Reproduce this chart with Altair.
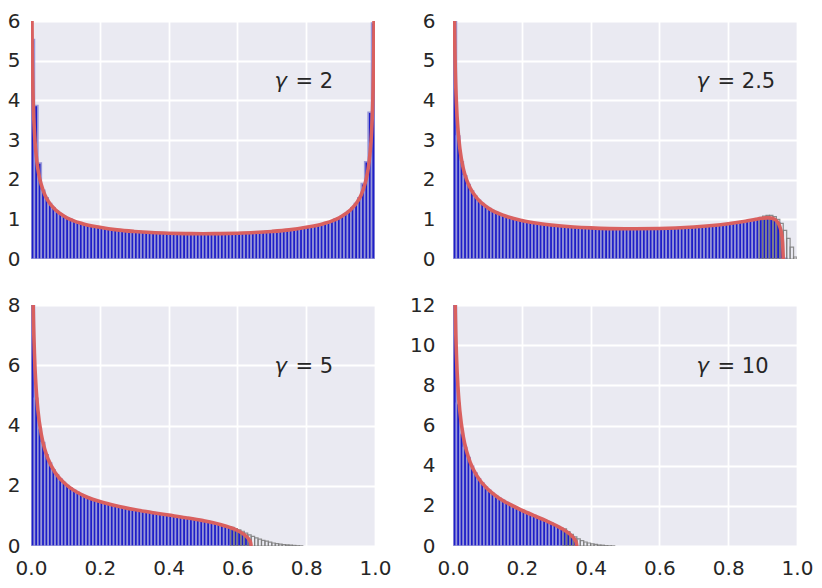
import altair as alt
import pandas as pd

BIN = 0.01
panels = ["2", "2.5", "5", "10"]
y_max = {"2": 6, "2.5": 6, "5": 8, "10": 12}
y_step = {"2": 1, "2.5": 1, "5": 2, "10": 2}

# blue histogram heights (bins of width 0.01 starting at 0)
blue = {
    "2": [5.53, 3.87, 2.42, 1.73, 1.54, 1.40, 1.29, 1.21, 1.14, 1.09,
          1.04, 1.00, 0.96, 0.93, 0.90, 0.88, 0.86, 0.84, 0.82, 0.80,
          0.79, 0.78, 0.76, 0.75, 0.74, 0.73, 0.72, 0.71, 0.71, 0.70,
          0.69, 0.69, 0.68, 0.67, 0.67, 0.67, 0.66, 0.66, 0.65, 0.65,
          0.65, 0.65, 0.64, 0.64, 0.64, 0.64, 0.64, 0.64, 0.64, 0.64,
          0.64, 0.64, 0.64, 0.64, 0.64, 0.64, 0.64, 0.64, 0.65, 0.65,
          0.65, 0.65, 0.66, 0.66, 0.67, 0.67, 0.67, 0.68, 0.69, 0.69,
          0.70, 0.71, 0.71, 0.72, 0.73, 0.74, 0.75, 0.76, 0.78, 0.79,
          0.80, 0.82, 0.84, 0.86, 0.88, 0.90, 0.93, 0.96, 1.00, 1.04,
          1.09, 1.14, 1.21, 1.29, 1.40, 1.54, 1.90, 2.45, 3.70, 5.95],
    "2.5": [7.80, 3.10, 2.45, 2.10, 1.88, 1.71, 1.58, 1.48, 1.40, 1.33,
            1.27, 1.22, 1.18, 1.14, 1.10, 1.07, 1.05, 1.02, 1.00, 0.98,
            0.96, 0.94, 0.93, 0.91, 0.90, 0.89, 0.88, 0.87, 0.86, 0.85,
            0.84, 0.83, 0.82, 0.82, 0.81, 0.81, 0.80, 0.80, 0.79, 0.79,
            0.78, 0.78, 0.78, 0.77, 0.77, 0.77, 0.77, 0.77, 0.77, 0.76,
            0.76, 0.76, 0.76, 0.76, 0.76, 0.76, 0.76, 0.77, 0.77, 0.77,
            0.77, 0.77, 0.78, 0.78, 0.78, 0.79, 0.79, 0.80, 0.80, 0.81,
            0.81, 0.82, 0.83, 0.83, 0.84, 0.85, 0.86, 0.86, 0.87, 0.88,
            0.90, 0.91, 0.92, 0.93, 0.95, 0.96, 0.98, 0.99, 1.01, 1.02,
            1.03, 1.04, 1.03, 1.00, 0.91, 0.60, 0.02],
    "5": [12.0, 4.90, 3.90, 3.43, 3.03, 2.75, 2.53, 2.36, 2.22, 2.11,
          2.01, 1.92, 1.85, 1.78, 1.72, 1.67, 1.62, 1.57, 1.53, 1.49,
          1.46, 1.43, 1.40, 1.37, 1.34, 1.31, 1.29, 1.27, 1.24, 1.22,
          1.20, 1.18, 1.16, 1.14, 1.12, 1.11, 1.09, 1.07, 1.05, 1.04,
          1.02, 1.00, 0.98, 0.97, 0.95, 0.93, 0.91, 0.89, 0.87, 0.85,
          0.83, 0.81, 0.78, 0.76, 0.73, 0.70, 0.67, 0.63, 0.59, 0.54,
          0.49, 0.42, 0.33, 0.15],
    "10": [14.0, 7.10, 5.60, 4.90, 4.40, 3.97, 3.63, 3.35, 3.13, 2.94,
           2.77, 2.63, 2.49, 2.38, 2.27, 2.17, 2.07, 1.98, 1.90, 1.82,
           1.74, 1.67, 1.59, 1.52, 1.44, 1.37, 1.30, 1.22, 1.14, 1.06,
           0.97, 0.88, 0.77, 0.65, 0.51, 0.25],
}

# gray outlined histogram (tail beyond the limiting support)
gray_first = {"2.5": 0.89, "5": 0.58, "10": 0.32}
gray = {
    "2.5": [1.05, 1.08, 1.10, 1.10, 1.07, 1.00, 0.90, 0.72, 0.52, 0.30, 0.05],
    "5": [0.62, 0.58, 0.54, 0.49, 0.43, 0.37, 0.32, 0.27, 0.23, 0.19, 0.16,
          0.13, 0.10, 0.08, 0.06, 0.05, 0.04, 0.03, 0.02, 0.01, 0.005],
    "10": [0.85, 0.72, 0.58, 0.45, 0.35, 0.27, 0.20, 0.15, 0.11, 0.08, 0.05,
           0.04, 0.02, 0.01, 0.005],
}

# red density curves
curve_x = {
    "2": [0.001, 0.003, 0.005, 0.01, 0.015, 0.02, 0.025, 0.03, 0.04, 0.05,
          0.07, 0.1, 0.15, 0.2, 0.25, 0.3, 0.35, 0.4, 0.45, 0.5,
          0.55, 0.6, 0.65, 0.7, 0.75, 0.8, 0.85, 0.9, 0.93, 0.95,
          0.96, 0.97, 0.975, 0.98, 0.985, 0.99, 0.995, 0.997, 0.999],
    "2.5": [0.001, 0.003, 0.005, 0.01, 0.015, 0.02, 0.03, 0.04, 0.05, 0.07,
            0.1, 0.15, 0.2, 0.25, 0.3, 0.35, 0.4, 0.5, 0.6, 0.7,
            0.8, 0.85, 0.88, 0.9, 0.91, 0.92, 0.93, 0.94, 0.945, 0.95,
            0.955, 0.958, 0.96],
    "5": [0.001, 0.003, 0.005, 0.01, 0.015, 0.02, 0.03, 0.04, 0.05, 0.07,
          0.1, 0.15, 0.2, 0.25, 0.3, 0.35, 0.4, 0.45, 0.5, 0.55,
          0.58, 0.6, 0.62, 0.63, 0.635, 0.638, 0.64],
    "10": [0.001, 0.003, 0.005, 0.007, 0.01, 0.015, 0.02, 0.03, 0.04, 0.05,
           0.07, 0.1, 0.13, 0.16, 0.2, 0.24, 0.27, 0.3, 0.32, 0.34,
           0.35, 0.355, 0.358, 0.36],
}
curve_y = {
    "2": [10.07, 5.82, 4.51, 3.20, 2.62, 2.27, 2.04, 1.87, 1.62, 1.46,
          1.25, 1.06, 0.89, 0.80, 0.735, 0.695, 0.667, 0.650, 0.640, 0.637,
          0.640, 0.650, 0.667, 0.695, 0.735, 0.80, 0.89, 1.06, 1.25, 1.46,
          1.62, 1.87, 2.04, 2.27, 2.62, 3.20, 4.51, 5.82, 10.07],
    "2.5": [12.33, 7.13, 5.53, 3.92, 3.21, 2.78, 2.28, 1.99, 1.79, 1.53,
            1.30, 1.09, 0.97, 0.894, 0.843, 0.808, 0.785, 0.763, 0.770, 0.808,
            0.890, 0.954, 1.000, 1.027, 1.036, 1.037, 1.021, 0.967, 0.911, 0.816,
            0.640, 0.433, 0.0],
    "5": [20.1, 11.63, 9.01, 6.38, 5.22, 4.52, 3.70, 3.21, 2.88, 2.44,
          2.06, 1.69, 1.475, 1.325, 1.210, 1.114, 1.027, 0.940, 0.842, 0.715,
          0.609, 0.514, 0.376, 0.271, 0.193, 0.123, 0.0],
    "10": [30.2, 17.41, 13.48, 11.38, 9.51, 7.75, 6.70, 5.44, 4.69, 4.17,
           3.48, 2.85, 2.43, 2.12, 1.78, 1.48, 1.26, 1.02, 0.83, 0.585,
           0.414, 0.293, 0.185, 0.0],
}

x_ticks = [0.0, 0.2, 0.4, 0.6, 0.8, 1.0]
label_pos = (0.708, 0.718)  # fraction of axes

BLUE_FILL = "#1e1ec8"
BLUE_EDGE = "#9898d8"
RED = "#d9605f"
TEXT = "#262626"
W = 344
H_TOP, H_BOTTOM = 238, 241


def panel(g, show_x, h_px, ypad):
    ym = y_max[g]
    xs = alt.Scale(domain=[0, 1], nice=False, zero=False)
    ys = alt.Scale(domain=[0, ym], nice=False)
    y_ticks = list(range(0, ym + 1, y_step[g]))
    xaxis = alt.Axis(values=x_ticks, tickCount=len(x_ticks), format=".1f",
                     labels=show_x, title=None,
                     labelPadding=12, labelFlush=False, labelOverlap=False)
    yaxis = alt.Axis(values=y_ticks, tickCount=len(y_ticks), title=None,
                     labelPadding=ypad, labelFlush=False, labelOverlap=False)

    h = blue[g]
    bdf = pd.DataFrame({"x0": [i * BIN for i in range(len(h))],
                        "x1": [(i + 1) * BIN for i in range(len(h))],
                        "h": h, "z": [0.0] * len(h)})
    bars = alt.Chart(bdf).mark_rect(
        fill=BLUE_FILL, stroke=BLUE_EDGE, strokeWidth=1.6, clip=True
    ).encode(
        x=alt.X("x0:Q", scale=xs, axis=xaxis), x2="x1:Q",
        y=alt.Y("h:Q", scale=ys, axis=yaxis), y2="z:Q",
    )
    layers = [bars]

    if g in gray:
        gv = gray[g]
        start = gray_first[g]
        gdf = pd.DataFrame({"x0": [start + i * BIN for i in range(len(gv))],
                            "x1": [start + (i + 1) * BIN for i in range(len(gv))],
                            "h": gv, "z": [0.0] * len(gv)})
        layers.append(alt.Chart(gdf).mark_rect(
            fillOpacity=0, fill="white", stroke="#7a7a7a", strokeOpacity=0.85,
            strokeWidth=1.2, clip=True
        ).encode(x=alt.X("x0:Q", scale=xs), x2="x1:Q",
                 y=alt.Y("h:Q", scale=ys), y2="z:Q"))

    cdf = pd.DataFrame({"x": curve_x[g], "y": curve_y[g]})
    layers.append(alt.Chart(cdf).mark_line(
        color=RED, strokeWidth=3.6, clip=True, interpolate="monotone"
    ).encode(x=alt.X("x:Q", scale=xs), y=alt.Y("y:Q", scale=ys)))

    tdf = pd.DataFrame({"x": [label_pos[0]], "y": [label_pos[1] * ym],
                        "a": ["γ"], "b": ["= " + g]})
    layers.append(alt.Chart(tdf).mark_text(
        align="left", baseline="alphabetic", fontSize=21, fontStyle="italic",
        font="DejaVu Sans", color=TEXT
    ).encode(x=alt.X("x:Q", scale=xs), y=alt.Y("y:Q", scale=ys), text="a:N"))
    layers.append(alt.Chart(tdf).mark_text(
        align="left", baseline="alphabetic", fontSize=21, dx=21,
        font="DejaVu Sans", color=TEXT
    ).encode(x=alt.X("x:Q", scale=xs), y=alt.Y("y:Q", scale=ys), text="b:N"))

    return alt.layer(*layers).properties(width=W, height=h_px)


chart = alt.concat(
    panel("2", False, H_TOP, 11),
    panel("2.5", False, H_TOP, 18),
    panel("5", True, H_BOTTOM, 11),
    panel("10", True, H_BOTTOM, 18),
    columns=2,
    spacing={"row": 46, "column": 78},
    bounds="flush",
).properties(
    padding={"left": -1, "top": 3, "right": 0, "bottom": 0}
).configure_view(
    fill="#EAEAF2", stroke=None
).configure_axis(
    domain=False, ticks=False, grid=True, gridColor="white", gridWidth=1.8,
    labelFont="DejaVu Sans", labelFontSize=20, labelColor=TEXT,
)

chart.save("out.html", embed_options={"renderer": "svg", "actions": False})
